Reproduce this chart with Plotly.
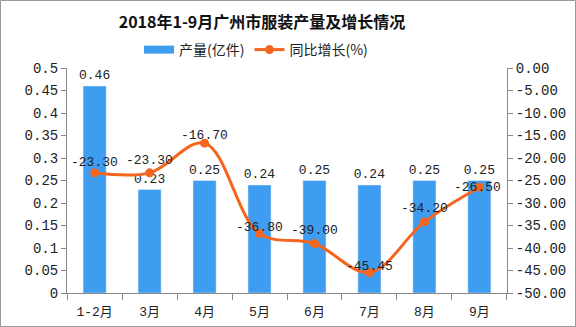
import plotly.graph_objects as go

categories = ["1-2月", "3月", "4月", "5月", "6月", "7月", "8月", "9月"]
output = [0.46, 0.23, 0.25, 0.24, 0.25, 0.24, 0.25, 0.25]
growth = [-23.30, -23.30, -16.70, -36.80, -39.00, -45.45, -34.20, -26.50]
left_ticks = [0, 0.05, 0.1, 0.15, 0.2, 0.25, 0.3, 0.35, 0.4, 0.45, 0.5]
left_labels = ["0", "0.05", "0.1", "0.15", "0.2", "0.25", "0.3", "0.35", "0.4", "0.45", "0.5"]
right_ticks = [0, -5, -10, -15, -20, -25, -30, -35, -40, -45, -50]

# label offsets (pixels above the point) for the growth labels
label_shift = [10, 12, 8, 6, 13, 6, 13, 0]
label_xshift = [0, 0, 0, 0, 0, 0, 0, -2]

MONO = "Liberation Mono, Noto Sans CJK SC"
CJK = "Noto Sans CJK SC"
BAR = "#3E9DF0"
LINE = "#F5651E"
AX = "#888888"

fig = go.Figure()
fig.add_trace(go.Bar(
    x=categories, y=output, name="产量(亿件)", marker_color=BAR, width=0.42,
    text=[f"{v:.2f}" for v in output], textposition="outside", constraintext="none",
    textfont=dict(size=13, color="#222", family=MONO), cliponaxis=False, showlegend=False,
))
# legend entry for bars drawn as a wide swatch
fig.add_trace(go.Scatter(
    x=[None], y=[None], name="产量(亿件)", mode="lines",
    line=dict(color=BAR, width=8), showlegend=True,
))
fig.add_trace(go.Scatter(
    x=categories, y=growth, name="同比增长(%)", yaxis="y2", mode="lines+markers",
    line=dict(color=LINE, width=3, shape="spline", smoothing=1.0),
    marker=dict(size=9, color=LINE), cliponaxis=False,
))

annotations = []
for c, g, dy, dx in zip(categories, growth, label_shift, label_xshift):
    annotations.append(dict(x=c, y=g, xref="x", yref="y2", text=f"{g:.2f}", showarrow=False,
                            yshift=dy, xshift=dx, font=dict(size=13, color="#222", family=MONO)))

fig.update_layout(
    width=576, height=327,
    margin=dict(l=67, r=69, t=68, b=34, autoexpand=False),
    paper_bgcolor="white", plot_bgcolor="white",
    font=dict(family=MONO, size=13, color="#222"),
    title=dict(text="<b>2018年1-9月广州市服装产量及增长情况</b>", xref="container", x=262/576,
               xanchor="center", yref="container", y=1 - 22/327, yanchor="middle",
               font=dict(size=16, color="#111", family=CJK)),
    legend=dict(orientation="h", x=(256 - 67) / 440, xanchor="center", y=1 + 18/225, yanchor="middle",
                font=dict(size=14, family=CJK), bgcolor="rgba(0,0,0,0)", itemwidth=30,
                tracegroupgap=0),
    showlegend=True,
    annotations=annotations,
    xaxis=dict(showline=True, linecolor=AX, ticks="outside", tickcolor=AX, ticklen=6,
               tickson="boundaries", showgrid=False, tickfont=dict(size=13, family=MONO),
               ticklabelstandoff=6, automargin=False),
    yaxis=dict(range=[0, 0.5], tickvals=left_ticks, ticktext=left_labels, showline=True,
               linecolor=AX, ticks="outside", tickcolor=AX, ticklen=5, showgrid=False,
               zeroline=False, tickfont=dict(size=14, family=MONO), automargin=False),
    yaxis2=dict(range=[-50, 0], tickvals=right_ticks, ticktext=[f"{v:.2f}" for v in right_ticks],
                overlaying="y", side="right", showline=True, linecolor=AX, ticks="outside",
                tickcolor=AX, ticklen=5, showgrid=False, zeroline=False,
                tickfont=dict(size=14, family=MONO), automargin=False),
    shapes=[dict(type="rect", xref="paper", yref="paper",
                 x0=-67/440 + 0.5/440, x1=1 + 69/440 - 0.5/440,
                 y0=-34/225 + 0.5/225, y1=1 + 68/225 - 0.5/225,
                 line=dict(color="#999", width=1), fillcolor="rgba(0,0,0,0)")],
)

fig.write_html("out.html")
